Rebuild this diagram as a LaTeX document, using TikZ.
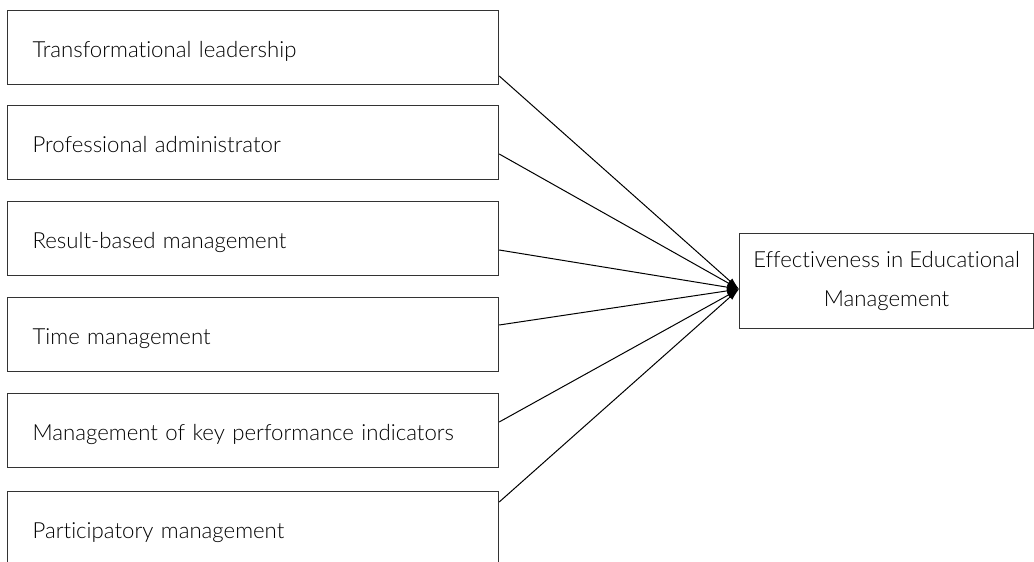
\documentclass[tikz,border=0pt]{standalone}
\usepackage{fontspec}
\setmainfont{Lato}[UprightFont=* Light, Ligatures=NoCommon]
\usetikzlibrary{arrows.meta,calc}

\begin{document}
\begin{tikzpicture}[x=1pt,y=-1pt,
    factor/.style={draw=black!80, line width=1.2pt, anchor=north west,
        minimum width=491pt, minimum height=74pt, inner xsep=25pt,
        text width=441pt, align=left, text height=22pt, text depth=3pt,
        font=\fontsize{22.2}{24}\selectfont},
    outcome/.style={draw=black!80, line width=1.2pt, anchor=north west,
        minimum width=294pt, minimum height=95pt, inner xsep=4pt,
        align=center, font=\fontsize{22.2}{39}\selectfont},
    link/.style={line width=1pt, -{Latex[length=12pt,width=7pt]}}]

    %frame:
    \useasboundingbox (0,0) rectangle (1034,562);
    \clip (0,0) rectangle (1034,562);

    %left boxes:
    \node[factor] (lead) at (7,10) {Transformational leadership};
    \node[factor] (prof) at (7,105) {Professional administrator};
    \node[factor] (result) at (7,201) {Result-based management};
    \node[factor] (time) at (7,297) {Time management};
    \node[factor] (kpi) at (7,393) {Management of key performance indicators};
    \node[factor] (part) at (7,491) {Participatory management};

    %right box:
    \node[outcome] (eff) at (739,233) {Effectiveness in Educational\\Management};
    \coordinate (hub) at ($(eff.west)+(0,8)$);

    %arrows:
    \draw[link] ($(lead.north east)+(0,66)$) -- (hub);
    \draw[link] ($(prof.north east)+(0,49)$) -- (hub);
    \draw[link] ($(result.north east)+(0,49)$) -- (hub);
    \draw[link] ($(time.north east)+(0,28)$) -- (hub);
    \draw[link] ($(kpi.north east)+(0,29)$) -- (hub);
    \draw[link] ($(part.north east)+(0,11)$) -- (hub);

\end{tikzpicture}
\end{document}
